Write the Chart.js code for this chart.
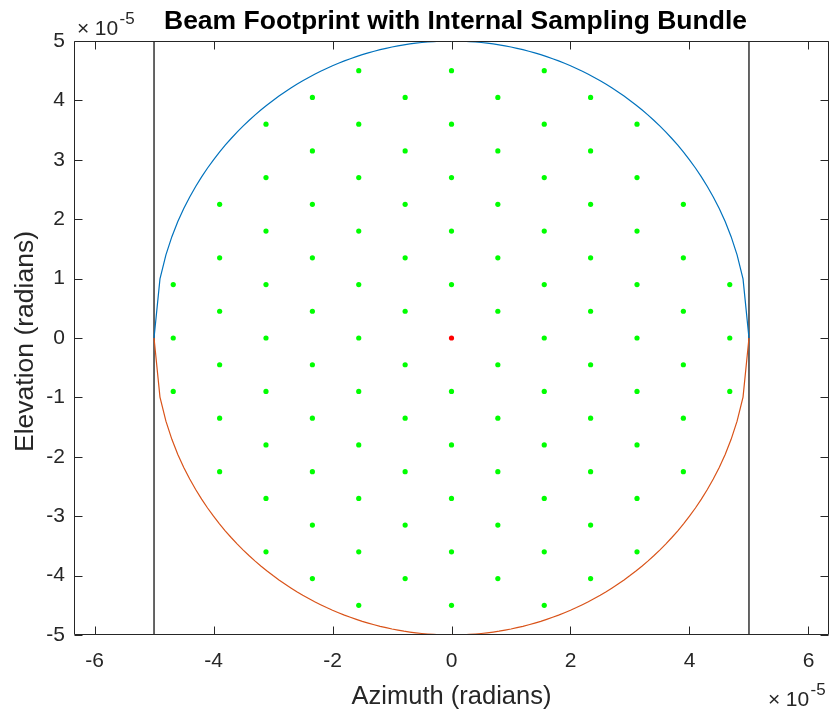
<!DOCTYPE html>
<html>
<head>
<meta charset="utf-8">
<script src="https://cdn.jsdelivr.net/npm/chart.js@4.4.1/dist/chart.umd.min.js"></script>
<style>
  html, body { margin: 0; padding: 0; background: #ffffff; overflow: hidden; }
  #wrap { width: 830px; height: 709px; position: relative; overflow: hidden; }
  #beam { display: block; }
</style>
</head>
<body>
<div id="wrap"><canvas id="beam" width="833" height="709"></canvas></div>
<script>
// All angular values are in units of 1e-5 radians.

// Beam edge, sampled along azimuth.
const circleAzimuth = [
  -5.0,-4.9,-4.8,-4.7,-4.6,-4.5,-4.4,-4.3,-4.2,-4.1,
  -4.0,-3.9,-3.8,-3.7,-3.6,-3.5,-3.4,-3.3,-3.2,-3.1,
  -3.0,-2.9,-2.8,-2.7,-2.6,-2.5,-2.4,-2.3,-2.2,-2.1,
  -2.0,-1.9,-1.8,-1.7,-1.6,-1.5,-1.4,-1.3,-1.2,-1.1,
  -1.0,-0.9,-0.8,-0.7,-0.6,-0.5,-0.4,-0.3,-0.2,-0.1,
  0.0,
  0.1,0.2,0.3,0.4,0.5,0.6,0.7,0.8,0.9,1.0,
  1.1,1.2,1.3,1.4,1.5,1.6,1.7,1.8,1.9,2.0,
  2.1,2.2,2.3,2.4,2.5,2.6,2.7,2.8,2.9,3.0,
  3.1,3.2,3.3,3.4,3.5,3.6,3.7,3.8,3.9,4.0,
  4.1,4.2,4.3,4.4,4.5,4.6,4.7,4.8,4.9,5.0
];
const circleUpper = [
  0.000,0.995,1.400,1.706,1.960,2.179,2.375,2.551,2.713,2.862,
  3.000,3.129,3.250,3.363,3.470,3.571,3.666,3.756,3.842,3.923,
  4.000,4.073,4.142,4.208,4.271,4.330,4.386,4.440,4.490,4.538,
  4.583,4.625,4.665,4.702,4.737,4.770,4.800,4.828,4.854,4.877,
  4.899,4.918,4.936,4.951,4.964,4.975,4.984,4.991,4.996,4.999,
  5.000,
  4.999,4.996,4.991,4.984,4.975,4.964,4.951,4.936,4.918,4.899,
  4.877,4.854,4.828,4.800,4.770,4.737,4.702,4.665,4.625,4.583,
  4.538,4.490,4.440,4.386,4.330,4.271,4.208,4.142,4.073,4.000,
  3.923,3.842,3.756,3.666,3.571,3.470,3.363,3.250,3.129,3.000,
  2.862,2.713,2.551,2.375,2.179,1.960,1.706,1.400,0.995,0.000
];
const circleLower = [
  -0.000,-0.995,-1.400,-1.706,-1.960,-2.179,-2.375,-2.551,-2.713,-2.862,
  -3.000,-3.129,-3.250,-3.363,-3.470,-3.571,-3.666,-3.756,-3.842,-3.923,
  -4.000,-4.073,-4.142,-4.208,-4.271,-4.330,-4.386,-4.440,-4.490,-4.538,
  -4.583,-4.625,-4.665,-4.702,-4.737,-4.770,-4.800,-4.828,-4.854,-4.877,
  -4.899,-4.918,-4.936,-4.951,-4.964,-4.975,-4.984,-4.991,-4.996,-4.999,
  -5.000,
  -4.999,-4.996,-4.991,-4.984,-4.975,-4.964,-4.951,-4.936,-4.918,-4.899,
  -4.877,-4.854,-4.828,-4.800,-4.770,-4.737,-4.702,-4.665,-4.625,-4.583,
  -4.538,-4.490,-4.440,-4.386,-4.330,-4.271,-4.208,-4.142,-4.073,-4.000,
  -3.923,-3.842,-3.756,-3.666,-3.571,-3.470,-3.363,-3.250,-3.129,-3.000,
  -2.862,-2.713,-2.551,-2.375,-2.179,-1.960,-1.706,-1.400,-0.995,-0.000
];

// Bounding box of the footprint (corners, closed).
const boxAzimuth   = [-5, -5,  5,  5, -5];
const boxElevation = [-5,  5,  5, -5, -5];

// Sampling bundle: hexagonal lattice, one azimuth column per entry.
const bundleColumnAz = [-4.677, -3.897, -3.118, -2.338, -1.559, -0.779, 0,
                         0.779, 1.559, 2.338, 3.118, 3.897, 4.677];
const bundleColumnEl = [
  [-0.9, 0, 0.9],
  [-2.25, -1.35, -0.45, 0.45, 1.35, 2.25],
  [-3.6, -2.7, -1.8, -0.9, 0, 0.9, 1.8, 2.7, 3.6],
  [-4.05, -3.15, -2.25, -1.35, -0.45, 0.45, 1.35, 2.25, 3.15, 4.05],
  [-4.5, -3.6, -2.7, -1.8, -0.9, 0, 0.9, 1.8, 2.7, 3.6, 4.5],
  [-4.05, -3.15, -2.25, -1.35, -0.45, 0.45, 1.35, 2.25, 3.15, 4.05],
  [-4.5, -3.6, -2.7, -1.8, -0.9, 0.9, 1.8, 2.7, 3.6, 4.5],
  [-4.05, -3.15, -2.25, -1.35, -0.45, 0.45, 1.35, 2.25, 3.15, 4.05],
  [-4.5, -3.6, -2.7, -1.8, -0.9, 0, 0.9, 1.8, 2.7, 3.6, 4.5],
  [-4.05, -3.15, -2.25, -1.35, -0.45, 0.45, 1.35, 2.25, 3.15, 4.05],
  [-3.6, -2.7, -1.8, -0.9, 0, 0.9, 1.8, 2.7, 3.6],
  [-2.25, -1.35, -0.45, 0.45, 1.35, 2.25],
  [-0.9, 0, 0.9]
];

// Boresight ray.
const boresightAz = [0];
const boresightEl = [0];

// Axis setup.
const xLimits = [-6.345, 6.345];
const yLimits = [-5, 5];
const xTickStep = 2;
const yTickStep = 1;

const TEXT = {
  title: 'Beam Footprint with Internal Sampling Bundle',
  xLabel: 'Azimuth (radians)',
  yLabel: 'Elevation (radians)',
  expBase: '10',
  expPower: '-5'
};

const FONT = '"Liberation Sans", Arial, Helvetica, sans-serif';
const AXIS_COLOR = '#262626';

function zipPoints(xs, ys) {
  return xs.map((x, i) => ({ x: x, y: ys[i] }));
}

const bundlePoints = [];
bundleColumnAz.forEach((az, c) => {
  bundleColumnEl[c].forEach(el => bundlePoints.push({ x: az, y: el }));
});

// Box frame, inward ticks and all free-standing text.
const framePlugin = {
  id: 'matlabFrame',
  afterDraw(chart) {
    const ctx = chart.ctx;
    const a = chart.chartArea;
    const xs = chart.scales.x;
    const ys = chart.scales.y;
    const L = Math.round(a.left) + 0.5, R = Math.round(a.right) - 0.5;
    const T = Math.round(a.top) + 0.5, B = Math.round(a.bottom) - 0.5;
    const tick = 8;

    ctx.save();
    ctx.strokeStyle = AXIS_COLOR;
    ctx.lineWidth = 1;
    ctx.beginPath();
    ctx.rect(L, T, R - L, B - T);
    xs.ticks.forEach(t => {
      const px = Math.round(xs.getPixelForValue(t.value)) + 0.5;
      ctx.moveTo(px, B); ctx.lineTo(px, B - tick);
      ctx.moveTo(px, T); ctx.lineTo(px, T + tick);
    });
    ys.ticks.forEach(t => {
      const py = Math.round(ys.getPixelForValue(t.value)) + 0.5;
      ctx.moveTo(L, py); ctx.lineTo(L + tick, py);
      ctx.moveTo(R, py); ctx.lineTo(R - tick, py);
    });
    ctx.stroke();

    const cx = (a.left + a.right) / 2;
    const cy = (a.top + a.bottom) / 2;

    // Title
    ctx.fillStyle = '#000000';
    ctx.font = 'bold 26.5px ' + FONT;
    ctx.textAlign = 'center';
    ctx.textBaseline = 'alphabetic';
    ctx.fillText(TEXT.title, cx + 4, 28.5);

    // Axis labels
    ctx.fillStyle = AXIS_COLOR;
    ctx.font = '25.5px ' + FONT;
    ctx.fillText(TEXT.xLabel, cx, 704);
    ctx.save();
    ctx.translate(33, cy + 3.5);
    ctx.rotate(-Math.PI / 2);
    ctx.font = '26.5px ' + FONT;
    ctx.fillText(TEXT.yLabel, 0, 0);
    ctx.restore();

    // Exponent multipliers
    function drawExponent(x, baseline) {
      ctx.textAlign = 'left';
      ctx.font = '21px ' + FONT;
      ctx.fillText('\u00d7', x, baseline);
      let px = x + ctx.measureText('\u00d7').width + 5.5;
      ctx.fillText(TEXT.expBase, px, baseline);
      px += ctx.measureText(TEXT.expBase).width + 1.5;
      ctx.font = '17px ' + FONT;
      ctx.fillText(TEXT.expPower, px, baseline - 11);
    }
    drawExponent(77, 35);
    drawExponent(768, 706);
    ctx.restore();
  }
};

new Chart(document.getElementById('beam'), {
  type: 'scatter',
  data: {
    datasets: [
      {
        label: 'upper edge',
        data: zipPoints(circleAzimuth, circleUpper),
        showLine: true,
        borderColor: '#0072BD',
        borderWidth: 1.2,
        pointRadius: 0,
        fill: false,
        tension: 0
      },
      {
        label: 'lower edge',
        data: zipPoints(circleAzimuth, circleLower),
        showLine: true,
        borderColor: '#D95319',
        borderWidth: 1.2,
        pointRadius: 0,
        fill: false,
        tension: 0
      },
      {
        label: 'box',
        data: zipPoints(boxAzimuth, boxElevation),
        showLine: true,
        borderColor: '#000000',
        borderWidth: 1.2,
        pointRadius: 0,
        fill: false,
        tension: 0
      },
      {
        label: 'bundle',
        data: bundlePoints,
        backgroundColor: '#00FF00',
        borderWidth: 0,
        pointRadius: 2.6
      },
      {
        label: 'boresight',
        data: zipPoints(boresightAz, boresightEl),
        backgroundColor: '#FF0000',
        borderWidth: 0,
        pointRadius: 2.6
      }
    ]
  },
  options: {
    responsive: false,
    animation: false,
    layout: { padding: { top: 41, right: 0, left: 0, bottom: 0 } },
    plugins: {
      legend: { display: false },
      title: { display: false },
      tooltip: { enabled: false }
    },
    scales: {
      x: {
        type: 'linear',
        min: xLimits[0],
        max: xLimits[1],
        grid: { display: false, drawTicks: false },
        border: { display: false },
        ticks: {
          stepSize: xTickStep,
          includeBounds: false,
          color: AXIS_COLOR,
          font: { family: FONT, size: 21 },
          padding: 14,
          maxRotation: 0,
          callback: v => String(v)
        },
        afterFit(scale) {
          scale.height = 74;
          scale.paddingLeft = 0;
          scale.paddingRight = 0;
        }
      },
      y: {
        type: 'linear',
        min: yLimits[0],
        max: yLimits[1],
        grid: { display: false, drawTicks: false },
        border: { display: false },
        ticks: {
          stepSize: yTickStep,
          color: AXIS_COLOR,
          font: { family: FONT, size: 21 },
          padding: 9,
          callback: v => String(v)
        },
        afterFit(scale) {
          scale.width = 74;
          scale.paddingTop = 0;
          scale.paddingBottom = 0;
        }
      }
    }
  },
  plugins: [framePlugin]
});
</script>
</body>
</html>
